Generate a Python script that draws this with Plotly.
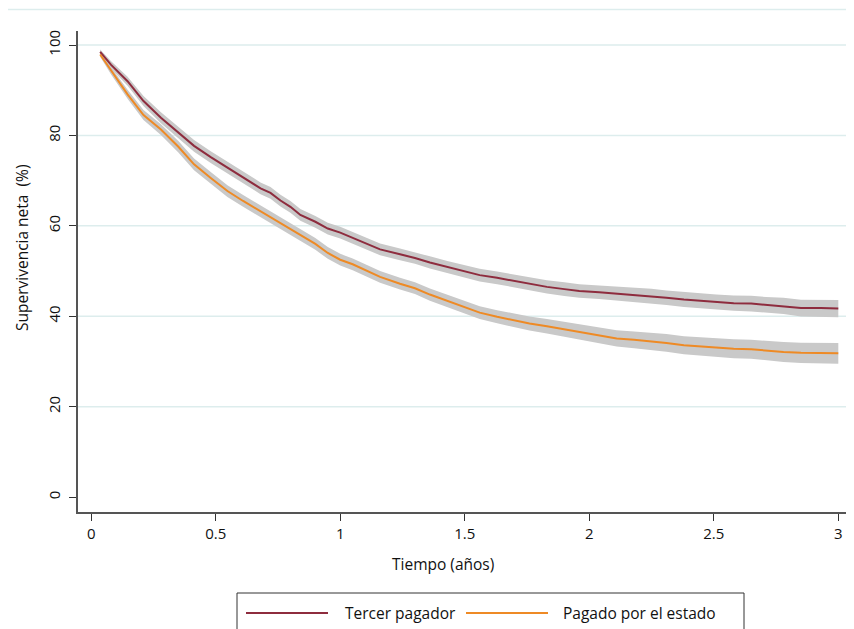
import plotly.graph_objects as go

# ---------------- data ----------------
tiempo = [0.036, 0.08, 0.146, 0.21, 0.28, 0.35, 0.413, 0.48, 0.547, 0.61,
          0.68, 0.72, 0.76, 0.80, 0.84, 0.90, 0.95, 1.0, 1.05, 1.11,
          1.16, 1.24, 1.30, 1.36, 1.43, 1.50, 1.56, 1.63, 1.70, 1.76,
          1.83, 1.90, 1.96, 2.04, 2.11, 2.18, 2.25, 2.31, 2.38, 2.45,
          2.51, 2.58, 2.65, 2.71, 2.78, 2.85, 2.93, 3.0]

tercer_pagador = [98.5, 95.6, 92.0, 87.6, 83.9, 80.7, 77.7, 75.2, 72.9, 70.6,
                  68.3, 67.3, 65.6, 64.2, 62.4, 60.9, 59.4, 58.5, 57.3, 55.9,
                  54.8, 53.7, 52.9, 51.9, 50.9, 50.0, 49.1, 48.5, 47.8, 47.1,
                  46.5, 46.0, 45.6, 45.3, 45.0, 44.8, 44.5, 44.1, 43.7, 43.4,
                  43.1, 42.9, 42.8, 42.5, 42.3, 41.8, 41.8, 41.7]

pagado_estado = [97.9, 94.3, 89.1, 84.5, 81.3, 77.5, 73.6, 70.6, 67.7, 65.5,
                 63.2, 62.0, 60.6, 59.4, 58.1, 56.0, 54.0, 52.5, 51.5, 50.0,
                 48.7, 47.2, 46.2, 44.8, 43.4, 42.0, 40.8, 39.9, 39.1, 38.4,
                 37.8, 37.1, 36.5, 35.8, 35.1, 34.8, 34.5, 34.1, 33.6, 33.3,
                 33.0, 32.8, 32.7, 32.4, 32.1, 31.9, 31.8, 31.8]

# half-width of the 95% confidence band
ic_tercer = [0.5, 0.8, 1.0, 1.1, 1.2, 1.25, 1.3, 1.3, 1.3, 1.3,
             1.3, 1.3, 1.3, 1.3, 1.3, 1.3, 1.3, 1.3, 1.3, 1.3,
             1.3, 1.3, 1.3, 1.35, 1.35, 1.35, 1.4, 1.4, 1.4, 1.45,
             1.45, 1.5, 1.5, 1.5, 1.55, 1.55, 1.6, 1.6, 1.65, 1.65,
             1.7, 1.7, 1.75, 1.75, 1.8, 1.85, 1.85, 1.9]
ic_estado = [0.5, 0.8, 1.0, 1.1, 1.2, 1.25, 1.3, 1.3, 1.3, 1.3,
             1.3, 1.3, 1.3, 1.3, 1.3, 1.3, 1.3, 1.3, 1.3, 1.3,
             1.3, 1.3, 1.3, 1.35, 1.35, 1.35, 1.4, 1.45, 1.5, 1.55,
             1.6, 1.65, 1.7, 1.75, 1.8, 1.85, 1.9, 1.95, 2.0, 2.0,
             2.05, 2.1, 2.1, 2.15, 2.2, 2.25, 2.25, 2.3]

series_names = ["Tercer pagador", "Pagado por el estado"]
series_vals = [tercer_pagador, pagado_estado]
series_ic = [ic_tercer, ic_estado]
series_colors = ["#8E2C3E", "#EE8A25"]

x_ticks = [0, 0.5, 1, 1.5, 2, 2.5, 3]
x_ticklabels = ["0", "0.5", "1", "1.5", "2", "2.5", "3"]
y_ticks = [0, 20, 40, 60, 80, 100]

# ---------------- figure ----------------
OFF = 7  # page offset of the figure inside the window
W, H = 854 - OFF, 629 - OFF
ML, MT = 77 - OFF, 30 - OFF
MR = W - (853 - OFF)
MB = H - (511 - OFF)
PW, PH = W - ML - MR, H - MT - MB


def px(xs):
    """screen x -> paper"""
    return (xs - OFF - ML) / PW


def py(ys):
    """screen y -> paper"""
    return (H - MB - (ys - OFF)) / PH


FONT = "Open Sans"
BAND = "#C9C9C9"
GRID = "#DDEDED"

fig = go.Figure()

for vals, ic in zip(series_vals, series_ic):
    upper = [v + h for v, h in zip(vals, ic)]
    lower = [v - h for v, h in zip(vals, ic)]
    fig.add_trace(go.Scatter(x=tiempo, y=upper, mode="lines",
                             line=dict(width=0, color=BAND),
                             showlegend=False, hoverinfo="skip"))
    fig.add_trace(go.Scatter(x=tiempo, y=lower, mode="lines",
                             line=dict(width=0, color=BAND),
                             fill="tonexty", fillcolor=BAND,
                             showlegend=False, hoverinfo="skip"))

for name, vals, col in zip(series_names, series_vals, series_colors):
    fig.add_trace(go.Scatter(x=tiempo, y=vals, mode="lines", name=name,
                             line=dict(width=2, color=col),
                             showlegend=False))

fig.update_layout(
    width=W, height=H, autosize=False,
    margin=dict(l=ML, r=MR, t=MT, b=MB, pad=0),
    paper_bgcolor="white", plot_bgcolor="white",
    font=dict(family=FONT, size=15, color="#111111"),
    showlegend=False,
    xaxis=dict(range=[-0.053, 3.063], tickvals=x_ticks, ticktext=x_ticklabels,
               showgrid=False, zeroline=False, showline=True,
               linecolor="#555555", linewidth=1.5,
               ticks="outside", ticklen=7, tickwidth=1.3, tickcolor="#333333",
               tickfont=dict(size=15)),
    yaxis=dict(range=[-3.3, 103.1], tickvals=y_ticks,
               showgrid=False, zeroline=False, showline=True,
               linecolor="#555555", linewidth=1.5,
               ticks="outside", ticklen=7, tickwidth=1.3, tickcolor="#333333",
               tickangle=-90, tickfont=dict(size=15), ticklabelstandoff=3),
)

shapes = []
# horizontal gridlines (not at 0)
for yv in y_ticks[1:]:
    shapes.append(dict(type="line", xref="paper", yref="y",
                       x0=0, x1=1, y0=yv, y1=yv,
                       line=dict(color=GRID, width=1.5), layer="below"))
# outer top rule
shapes.append(dict(type="line", xref="paper", yref="paper",
                   x0=px(7), x1=px(853), y0=py(8.5), y1=py(8.5),
                   line=dict(color=GRID, width=1.5)))
# legend box
shapes.append(dict(type="rect", xref="paper", yref="paper",
                   x0=px(236), x1=px(743), y0=py(592), y1=py(645),
                   line=dict(color="#333333", width=1), fillcolor="white"))
legend_lines = [(245, 327), (465, 547)]
for (a, b), col in zip(legend_lines, series_colors):
    shapes.append(dict(type="line", xref="paper", yref="paper",
                       x0=px(a), x1=px(b), y0=py(612), y1=py(612),
                       line=dict(color=col, width=2)))
fig.update_layout(shapes=shapes)

annotations = [
    dict(text="Supervivencia neta  (%)", xref="paper", yref="paper",
         x=px(21), y=py(247), textangle=-90, showarrow=False,
         xanchor="center", yanchor="middle", font=dict(size=15.5)),
    dict(text="Tiempo (años)", xref="paper", yref="paper",
         x=px(442), y=py(563), showarrow=False,
         xanchor="center", yanchor="middle", font=dict(size=15.5)),
]
legend_text_x = [342, 560]
for name, xt in zip(series_names, legend_text_x):
    annotations.append(dict(text=name, xref="paper", yref="paper",
                            x=px(xt), y=py(612), showarrow=False,
                            xanchor="left", yanchor="middle",
                            font=dict(size=15.5)))
fig.update_layout(annotations=annotations)

fig.write_html("out.html")
